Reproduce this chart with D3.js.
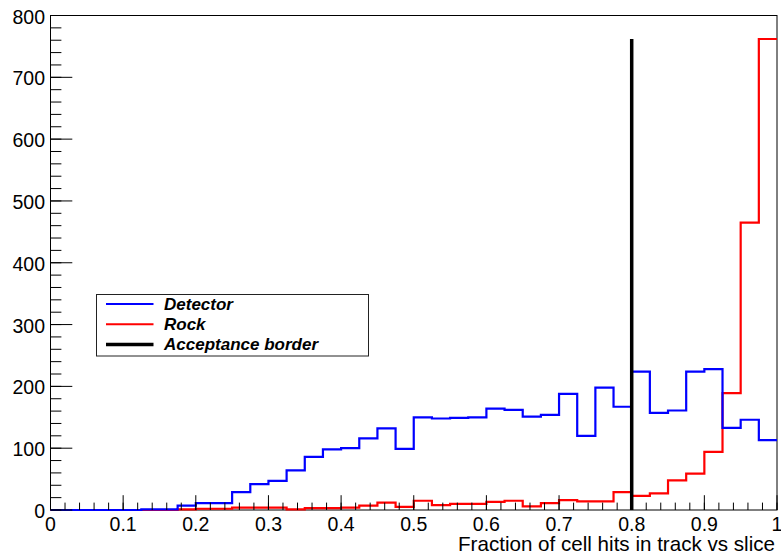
<!DOCTYPE html>
<html>
<head>
<meta charset="utf-8">
<script src="https://cdn.jsdelivr.net/npm/d3@7"></script>
<style>
  html, body { margin: 0; padding: 0; background: #fff; }
  svg { display: block; }
  text { font-family: "Liberation Sans", Arial, Helvetica, sans-serif; }
</style>
</head>
<body>
<svg id="chart" width="781" height="556"></svg>
<script>
// Histogram binning: 40 bins over [0, 1]
const xDomain = [0, 1];
const binCount = 40;

// Bin contents per sample (low edge 0 to high edge 1)
const detector = [0,0,0,0,0,1,1,7,11,11,29,42,47,64,86,98,100,116,132,99,
                  150,148,149,150,164,162,151,154,188,120,198,167,224,157,161,224,228,133,146,113];
const rock     = [0,0,0,0,0,0,0,1,2,2,4,4,4,1,3,3,4,7,12,5,
                  15,8,10,10,13,15,6,11,16,14,14,29,23,27,48,59,94,189,465,762];

// Acceptance border: cut position and drawn height
const acceptanceCut = 0.8;
const acceptanceTop = 762;

// Axis ticks
const xMajorTicks = [0, 0.1, 0.2, 0.3, 0.4, 0.5, 0.6, 0.7, 0.8, 0.9, 1];
const xTickLabels = ["0", "0.1", "0.2", "0.3", "0.4", "0.5", "0.6", "0.7", "0.8", "0.9", "1"];
const yMajorTicks = [0, 100, 200, 300, 400, 500, 600, 700, 800];
const yTickLabels = ["0", "100", "200", "300", "400", "500", "600", "700", "800"];
const xMinorStep = 0.02;
const yMinorStep = 20;
const yDomain = [0, 800];

const xTitle = "Fraction of cell hits in track vs slice";
const legendLabels = ["Detector", "Rock", "Acceptance border"];

const svg = d3.select("#chart");
const frameL = 50.5, frameR = 777, frameT = 15.5, frameB = 510;

const x = d3.scaleLinear().domain(xDomain).range([frameL, frameR]);
const y = d3.scaleLinear().domain(yDomain).range([frameB, frameT]);

const binWidth = (xDomain[1] - xDomain[0]) / binCount;

// Step outline of a histogram, ROOT style
function stepPath(values) {
  const p = d3.path();
  p.moveTo(x(xDomain[0]), y(values[0]));
  values.forEach((v, i) => {
    const lo = xDomain[0] + i * binWidth;
    if (i > 0) p.lineTo(x(lo), y(v));
    p.lineTo(x(lo + binWidth), y(v));
  });
  return p.toString();
}

// Frame
svg.append("rect")
  .attr("x", frameL).attr("y", frameT)
  .attr("width", frameR - frameL).attr("height", frameB - frameT)
  .attr("fill", "none").attr("stroke", "#000").attr("stroke-width", 1);

// Histograms
svg.append("path").attr("d", stepPath(rock))
  .attr("fill", "none").attr("stroke", "#ff0000").attr("stroke-width", 2.2);
svg.append("path").attr("d", stepPath(detector))
  .attr("fill", "none").attr("stroke", "#0000ff").attr("stroke-width", 2.2);

// Acceptance border line
svg.append("line")
  .attr("x1", x(acceptanceCut)).attr("x2", x(acceptanceCut))
  .attr("y1", y(0)).attr("y2", y(acceptanceTop))
  .attr("stroke", "#000").attr("stroke-width", 3.5);

// X axis ticks (drawn inward)
const xMajLen = 14.8, xMinLen = 7.4;
const xMinor = d3.range(xDomain[0], xDomain[1] + 1e-9, xMinorStep);
const gx = svg.append("g");
gx.selectAll("line.minor").data(xMinor).join("line")
  .attr("class", "minor")
  .attr("x1", d => x(d)).attr("x2", d => x(d))
  .attr("y1", frameB).attr("y2", frameB - xMinLen)
  .attr("stroke", "#000").attr("stroke-width", 1);
gx.selectAll("line.major").data(xMajorTicks).join("line")
  .attr("class", "major")
  .attr("x1", d => x(d)).attr("x2", d => x(d))
  .attr("y1", frameB).attr("y2", frameB - xMajLen)
  .attr("stroke", "#000").attr("stroke-width", 1);
gx.selectAll("text").data(xMajorTicks).join("text")
  .attr("x", d => x(d)).attr("y", frameB + 21)
  .attr("text-anchor", "middle")
  .attr("font-size", 19.5).attr("fill", "#000")
  .text((d, i) => xTickLabels[i]);

// Y axis ticks (drawn inward)
const yMajLen = 21.8, yMinLen = 10.9;
const yMinor = d3.range(yDomain[0], yDomain[1] + 1e-9, yMinorStep);
const gy = svg.append("g");
gy.selectAll("line.minor").data(yMinor).join("line")
  .attr("class", "minor")
  .attr("x1", frameL).attr("x2", frameL + yMinLen)
  .attr("y1", d => y(d)).attr("y2", d => y(d))
  .attr("stroke", "#000").attr("stroke-width", 1);
gy.selectAll("line.major").data(yMajorTicks).join("line")
  .attr("class", "major")
  .attr("x1", frameL).attr("x2", frameL + yMajLen)
  .attr("y1", d => y(d)).attr("y2", d => y(d))
  .attr("stroke", "#000").attr("stroke-width", 1);
gy.selectAll("text").data(yMajorTicks).join("text")
  .attr("x", frameL - 5.5).attr("y", d => y(d) + 8)
  .attr("text-anchor", "end")
  .attr("font-size", 19.5).attr("fill", "#000")
  .text((d, i) => yTickLabels[i]);

// X axis title, right aligned
svg.append("text")
  .attr("x", frameR - 2).attr("y", 551)
  .attr("text-anchor", "end")
  .attr("font-size", 20.6).attr("fill", "#000")
  .text(xTitle);

// Legend
const legend = svg.append("g");
legend.append("rect")
  .attr("x", 96.5).attr("y", 294.5).attr("width", 272).attr("height", 61.5)
  .attr("fill", "#fff").attr("stroke", "#222").attr("stroke-width", 1);
const legendStyles = [
  { color: "#0000ff", width: 2 },
  { color: "#ff0000", width: 2 },
  { color: "#000000", width: 3.5 }
];
legendLabels.forEach((label, i) => {
  const cy = 304 + i * 20.2;
  legend.append("line")
    .attr("x1", 106).attr("x2", 153.5)
    .attr("y1", cy).attr("y2", cy)
    .attr("stroke", legendStyles[i].color).attr("stroke-width", legendStyles[i].width);
  legend.append("text")
    .attr("x", 164).attr("y", cy + 6)
    .attr("font-size", 17).attr("font-weight", "bold").attr("font-style", "italic")
    .attr("fill", "#000")
    .text(label);
});
</script>
</body>
</html>
